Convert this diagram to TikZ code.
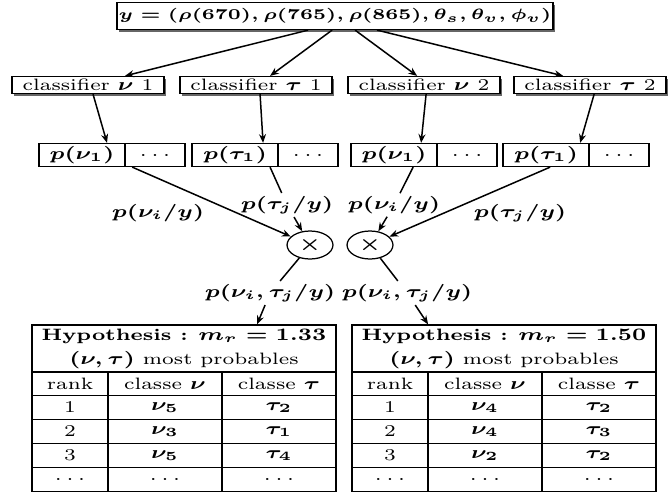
\documentclass[tikz,border=0pt]{standalone}
\usetikzlibrary{positioning,calc,shapes.geometric,shadows,arrows.meta}
\newcommand{\pdots}{{\unboldmath$\ldots$}}
\begin{document}
\begin{tikzpicture}[x=0.32pt, y=-0.4pt, xscale=1.25,
    every node/.append style={transform shape, font=\fontsize{6.6}{9.6}\selectfont\boldmath},
    sbox/.style={draw, fill=white, line width=0.5pt, inner sep=0pt,
      drop shadow={shadow xshift=0.9pt, shadow yshift=-0.9pt, fill=black!60, opacity=1}},
    clsbox/.style={sbox, minimum width=48.6pt, minimum height=6.8pt},
    cell/.style={draw, line width=0.5pt, inner sep=0pt, minimum height=9.2pt},
    prod/.style={draw, ellipse, line width=0.5pt, inner sep=0pt, minimum width=14.7pt, minimum height=11.2pt},
    lab/.style={inner sep=1pt},
    hyp/.style={draw, line width=0.5pt, align=center, inner sep=0pt, minimum width=97.3pt, minimum height=18.8pt},
    tcell/.style={draw, line width=0.5pt, inner sep=0pt, minimum height=9.6pt},
    edge/.style={line width=0.6pt},
    arr/.style={edge, -{Stealth[length=3.5pt, width=2.8pt]}}
  ]
  \useasboundingbox (0,0) rectangle (671,495);

  % Define nodes
  \node[sbox, minimum width=139.5pt, minimum height=10.8pt, font=\fontsize{6.3}{9.6}\selectfont\boldmath] (obs) at (335,16)
    {$y = (\rho(670), \rho(765), \rho(865), \theta_s, \theta_v, \phi_v)$};

  \node[clsbox] (cnu1) at (88,85) {classifier $\nu$ 1};
  \node[clsbox] (ctau1) at (256,85) {classifier $\tau$ 1};
  \node[clsbox] (cnu2) at (424,85) {classifier $\nu$ 2};
  \node[clsbox] (ctau2) at (590,85) {classifier $\tau$ 2};

  \node[cell, minimum width=27.5pt] (pnu1) at (82,155) {$p(\nu_1)$};
  \node[cell, minimum width=19.2pt, right=-0.5pt of pnu1] (pnu1d) {\pdots};
  \node[cell, minimum width=27.5pt] (ptau1) at (235,155) {$p(\tau_1)$};
  \node[cell, minimum width=19.2pt, right=-0.5pt of ptau1] (ptau1d) {\pdots};
  \node[cell, minimum width=27.5pt] (pnu2) at (394,155) {$p(\nu_1)$};
  \node[cell, minimum width=19.2pt, right=-0.5pt of pnu2] (pnu2d) {\pdots};
  \node[cell, minimum width=27.5pt] (ptau2) at (546,155) {$p(\tau_1)$};
  \node[cell, minimum width=19.2pt, right=-0.5pt of ptau2] (ptau2d) {\pdots};

  \node[lab] (lnu1) at (158,213) {$p(\nu_i/y)$};
  \node[lab] (ltau1) at (287,205) {$p(\tau_j/y)$};
  \node[lab] (lnu2) at (394,205) {$p(\nu_i/y)$};
  \node[lab] (ltau2) at (520,213) {$p(\tau_j/y)$};

  \node[prod] (prodA) at (310,245) {$\times$};
  \node[prod] (prodB) at (370,245) {$\times$};

  \node[lab] (ljA) at (270,293) {$p(\nu_i,\tau_j/y)$};
  \node[lab] (ljB) at (407,293) {$p(\nu_i,\tau_j/y)$};

  % Result tables
  \node[hyp] (hypA) at (184,348.5) {\textbf{Hypothesis :} $m_r = 1.33$\\$(\nu,\tau)$ most probables};
  \node[hyp] (hypB) at (504,348.5) {\textbf{Hypothesis :} $m_r = 1.50$\\$(\nu,\tau)$ most probables};
  \foreach \r/\y/\a/\b/\c in {0/383.5/rank/classe $\nu$/classe $\tau$, 1/407.5/1/$\nu_5$/$\tau_2$,
      2/431.5/2/$\nu_3$/$\tau_1$, 3/455.5/3/$\nu_5$/$\tau_4$, 4/479.5/\pdots/\pdots/\pdots} {
    \node[tcell, minimum width=24.3pt] (A-\r-1) at (70,\y) {\a};
    \node[tcell, minimum width=36.5pt] (A-\r-2) at (165,\y) {\b};
    \node[tcell, minimum width=36.5pt] (A-\r-3) at (279,\y) {\c};
  }
  \foreach \r/\y/\a/\b/\c in {0/383.5/rank/classe $\nu$/classe $\tau$, 1/407.5/1/$\nu_4$/$\tau_2$,
      2/431.5/2/$\nu_4$/$\tau_3$, 3/455.5/3/$\nu_2$/$\tau_2$, 4/479.5/\pdots/\pdots/\pdots} {
    \node[tcell, minimum width=24.3pt] (B-\r-1) at (390,\y) {\a};
    \node[tcell, minimum width=36.5pt] (B-\r-2) at (485,\y) {\b};
    \node[tcell, minimum width=36.5pt] (B-\r-3) at (599,\y) {\c};
  }

  % Draw edges
  \draw[arr] ($(obs.south)+(-27,0)$) -- ($(cnu1.north)+(37,0)$);
  \draw[arr] ($(obs.south)+(-3,0)$) -- ($(ctau1.north)+(14,0)$);
  \draw[arr] ($(obs.south)+(20,0)$) -- ($(cnu2.north)+(-7,0)$);
  \draw[arr] ($(obs.south)+(42,0)$) -- ($(ctau2.north)+(-27,0)$);

  \draw[arr] ($(cnu1.south)+(5,0)$) -- ($(pnu1.north)+(25,0)$);
  \draw[arr] ($(ctau1.south)+(4,0)$) -- ($(ptau1.north)+(28,0)$);
  \draw[arr] ($(cnu2.south)+(2,0)$) -- ($(pnu2.north)+(27,0)$);
  \draw[arr] ($(ctau2.south)+(4,0)$) -- ($(ptau2.north)+(34,0)$);

  \draw[arr] ($(pnu1d.south west)+(8,0)$) -- (prodA);
  \draw[edge] ($(ptau1.south)+(35,0)$) -- (ltau1);
  \draw[arr] (ltau1) -- (prodA);
  \draw[edge] ($(pnu2.south)+(19,0)$) -- (lnu2);
  \draw[arr] (lnu2) -- (prodB);
  \draw[arr] ($(ptau2.south)+(4,0)$) -- (prodB);

  \draw[edge] (prodA) -- (ljA);
  \draw[arr] (ljA) -- ($(hypA.north)+(73,0)$);
  \draw[edge] (prodB) -- (ljB);
  \draw[arr] (ljB) -- ($(hypB.north)+(-76,0)$);
\end{tikzpicture}
\end{document}
